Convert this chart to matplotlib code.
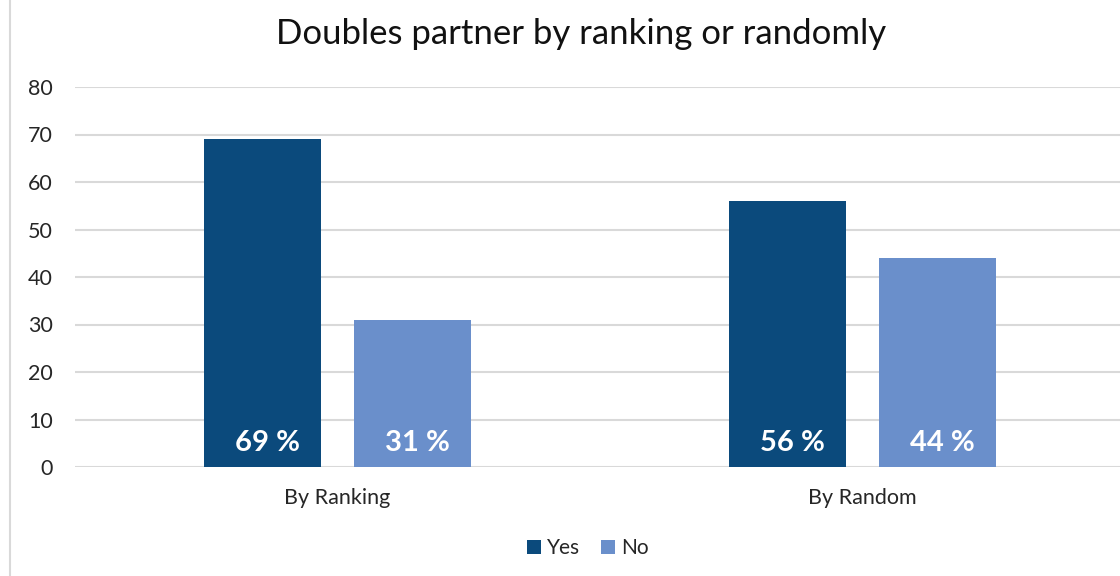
import matplotlib
matplotlib.use("Agg")
import matplotlib.pyplot as plt
import numpy as np

categories = ["By Ranking", "By Random"]
series_names = ["Yes", "No"]
yes_vals = [69, 56]
no_vals = [31, 44]
yticks = [0, 10, 20, 30, 40, 50, 60, 70, 80]

colors = ["#0b4a7c", "#6a8fcb"]
plt.rcParams['font.family'] = ['Lato', 'DejaVu Sans']

fig = plt.figure(figsize=(11.2, 5.76), dpi=100)
ax = fig.add_axes([75/1120, 1-467/576, 1050/1120, (467-87)/576])

x = np.arange(len(categories))
width = 0.223
off = 0.1425
b1 = ax.bar(x - off, yes_vals, width, color=colors[0], label=series_names[0], zorder=3)
b2 = ax.bar(x + off, no_vals, width, color=colors[1], label=series_names[1], zorder=3)

for bars, vals in ((b1, yes_vals), (b2, no_vals)):
    for r, v in zip(bars, vals):
        ax.text(r.get_x() + r.get_width()/2 + 0.01, 5, f"{v} %", ha='center', va='center',
                color='white', fontsize=21, fontweight='bold', zorder=4)

ax.set_xlim(-0.5, 1.5)
ax.set_ylim(0, 80)
ax.set_yticks(yticks)
ax.yaxis.grid(True, color='#d9d9d9', linewidth=1.5, zorder=0)
ax.set_axisbelow(True)
for s in ax.spines.values():
    s.set_visible(False)
ax.tick_params(axis='both', length=0, labelcolor='#262626')
ax.tick_params(axis='y', pad=16, labelsize=15.5)
ax.tick_params(axis='x', pad=15, labelsize=15.5)
ax.set_xticks(x)
ax.set_xticklabels(categories)

fig.text(581/1120, 1-34/576, "Doubles partner by ranking or randomly", ha='center', va='center',
         fontsize=25, color='#111111')

leg = fig.legend(loc='center', bbox_to_anchor=(0.525, 1-548/576), ncol=2, frameon=False,
                 fontsize=15, handlelength=0.65, handleheight=0.65, handletextpad=0.3,
                 columnspacing=1.0)
for t in leg.get_texts():
    t.set_color('#262626')

fig.add_artist(plt.Line2D([10/1120, 10/1120], [0, 1], color='#d9d9d9', linewidth=1.5,
                          transform=fig.transFigure))

fig.savefig("out.png", dpi=100)
